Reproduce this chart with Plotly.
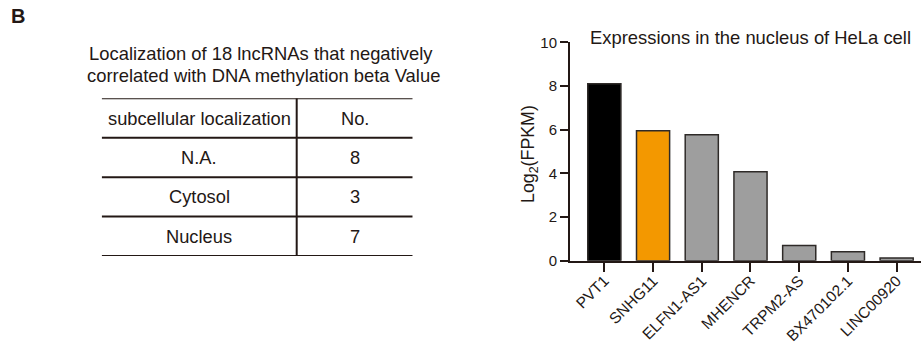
import plotly.graph_objects as go

# ---- data ----
genes = ["PVT1", "SNHG11", "ELFN1-AS1", "MHENCR", "TRPM2-AS", "BX470102.1", "LINC00920"]
log2_fpkm = [8.1, 5.95, 5.77, 4.07, 0.7, 0.41, 0.12]
bar_colors = ["#000000", "#F39800", "#9E9E9E", "#9E9E9E", "#9E9E9E", "#9E9E9E", "#9E9E9E"]

table_header = ["subcellular localization", "No."]
loc_labels = ["N.A.", "Cytosol", "Nucleus"]
loc_counts = [8, 3, 7]

W, H = 923, 344
FONT = "Liberation Sans, Arial, Helvetica, sans-serif"
INK = "#231815"

def px(x):
    return x / W

def py(y):
    return 1 - y / H

fig = go.Figure()
fig.add_trace(go.Bar(
    x=genes, y=log2_fpkm, width=0.68,
    marker=dict(color=bar_colors, line=dict(color="#2e2a28", width=1.5)),
    xaxis="x", yaxis="y", showlegend=False,
))

# invisible trace to anchor table axes
fig.add_trace(go.Scatter(x=[0, 1], y=[0, 4], mode="markers", marker=dict(opacity=0),
                         xaxis="x2", yaxis="y2", showlegend=False, hoverinfo="skip"))

col_split = 0.627
shapes = []
for r in range(len(loc_labels) + 2):
    shapes.append(dict(type="line", xref="x2", yref="y2", x0=0, x1=1, y0=r, y1=r,
                       line=dict(color=INK, width=2)))
shapes.append(dict(type="line", xref="x2", yref="y2", x0=col_split, x1=col_split, y0=0,
                   y1=len(loc_labels) + 1, line=dict(color=INK, width=2)))

def txt(x, y, s, xref, yref, size=18.3, angle=0, xanchor="center"):
    return dict(x=x, y=y, xref=xref, yref=yref, text=s, showarrow=False,
                xanchor=xanchor, yanchor="middle", textangle=angle,
                font=dict(size=size, color=INK, family=FONT))

ann = []
c1 = col_split / 2
c2 = (col_split + 1) / 2
ann.append(txt(c1, 0.5, table_header[0], "x2", "y2"))
ann.append(txt(c2, 0.5, table_header[1], "x2", "y2"))
for i, (lab, cnt) in enumerate(zip(loc_labels, loc_counts)):
    ann.append(txt(c1, i + 1.5, lab, "x2", "y2"))
    ann.append(txt(c2, i + 1.5, str(cnt), "x2", "y2"))

ann.append(txt(px(261), py(53), "Localization of 18 lncRNAs that negatively", "paper", "paper", size=18.4))
ann.append(txt(px(263), py(76), "correlated with DNA methylation beta Value", "paper", "paper", size=18.4))
ann.append(txt(px(750), py(38), "Expressions in the nucleus of HeLa cell", "paper", "paper", size=18.4))
ann.append(txt(px(529), py(154), "Log<sub>2</sub>(FPKM)", "paper", "paper", size=17.8, angle=-90))
ann.append(txt(px(9), py(16), "<b>B</b>", "paper", "paper", size=20, xanchor="left"))

fig.update_layout(
    width=W, height=H, margin=dict(l=0, r=0, t=0, b=0, autoexpand=False),
    paper_bgcolor="white", plot_bgcolor="white",
    font=dict(family=FONT, color=INK),
    xaxis=dict(domain=[px(570), px(921)], range=[-0.705, 6.5], showgrid=False,
               showline=True, linecolor=INK, linewidth=2, ticks="outside", ticklen=9,
               tickwidth=2, tickcolor=INK, tickangle=-45, ticklabelstandoff=-6,
               tickfont=dict(size=15.5, family=FONT, color=INK),
               anchor="y", zeroline=False, automargin=False),
    yaxis=dict(domain=[py(260.7), py(42.3)], range=[0, 10], tickvals=[0, 2, 4, 6, 8, 10],
               showgrid=False, showline=True, linecolor=INK, linewidth=2, ticks="outside",
               ticklen=8, tickwidth=2, tickcolor=INK, tickfont=dict(size=15, family=FONT, color=INK),
               anchor="x", zeroline=False, automargin=False),
    xaxis2=dict(domain=[px(101.7), px(412.7)], range=[0, 1], visible=False, anchor="y2",
                automargin=False),
    yaxis2=dict(domain=[py(256), py(98.3)], range=[4, 0], visible=False, anchor="x2",
                automargin=False),
    shapes=shapes, annotations=ann, bargap=0.3,
)

fig.write_html("out.html", config={"displayModeBar": False},
               post_script="document.body.style.margin='0';")
